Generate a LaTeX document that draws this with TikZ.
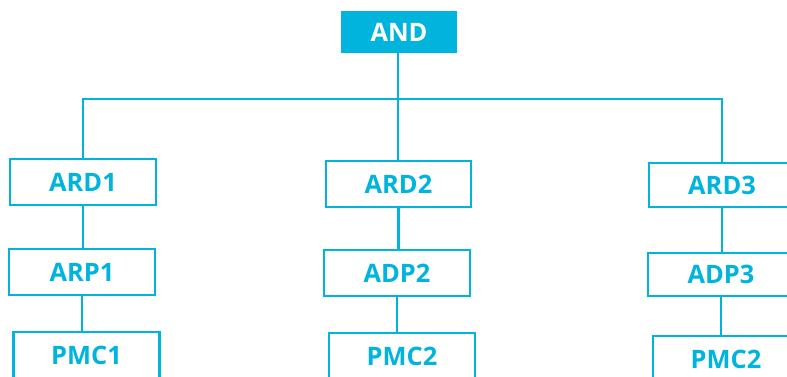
\documentclass[tikz,border=0pt]{standalone}
\usepackage{fontspec}
\setmainfont{Open Sans}
\definecolor{cy}{HTML}{00B4DE}
\begin{document}
\begin{tikzpicture}[x=1bp,y=-1bp,
  box/.style={draw=cy,line width=2.8bp,fill=white,minimum width=146bp,minimum height=46bp,inner sep=0pt,text=cy,font=\fontsize{25.5}{28}\selectfont\bfseries},
  topbox/.style={fill=cy,draw=none,minimum width=116bp,minimum height=42bp,inner sep=0pt,text=white,font=\fontsize{25.5}{28}\selectfont\bfseries},
  link/.style={draw=cy,line width=2.8bp}]
\useasboundingbox (0,0) rectangle (787,376);
\node[topbox] (and) at (399,32) {AND};
\node[box] (ard1) at (83,182) {ARD1};
\node[box] (arp1) at (82,272) {ARP1};
\node[box] (pmc1) at (86.5,355) {PMC1};
\node[box,minimum width=145bp] (ard2) at (398.5,184) {ARD2};
\node[box] (adp2) at (397,273) {ADP2};
\node[box] (pmc2) at (402,356) {PMC2};
\node[box,minimum height=44bp] (ard3) at (722,185) {ARD3};
\node[box,minimum height=43bp] (adp3) at (721,274.5) {ADP3};
\node[box] (pmc3) at (726,359) {PMC2};
\coordinate (bus) at (398,99);
\draw[link] (and.south -| bus) -- (bus);
\draw[link] (ard1.north) |- (bus);
\draw[link] (ard3.north) |- (bus);
\draw[link] (bus) -- (ard2.north -| bus);
\draw[link] (ard1.south) -- (ard1.south |- arp1.north);
\draw[link] (arp1.south) -- (arp1.south |- pmc1.north);
\draw[link] (ard2.south) -- (ard2.south |- adp2.north);
\draw[link] (adp2.south) -- (adp2.south |- pmc2.north);
\draw[link] (ard3.south) -- (ard3.south |- adp3.north);
\draw[link] (adp3.south) -- (adp3.south |- pmc3.north);
\end{tikzpicture}
\end{document}
